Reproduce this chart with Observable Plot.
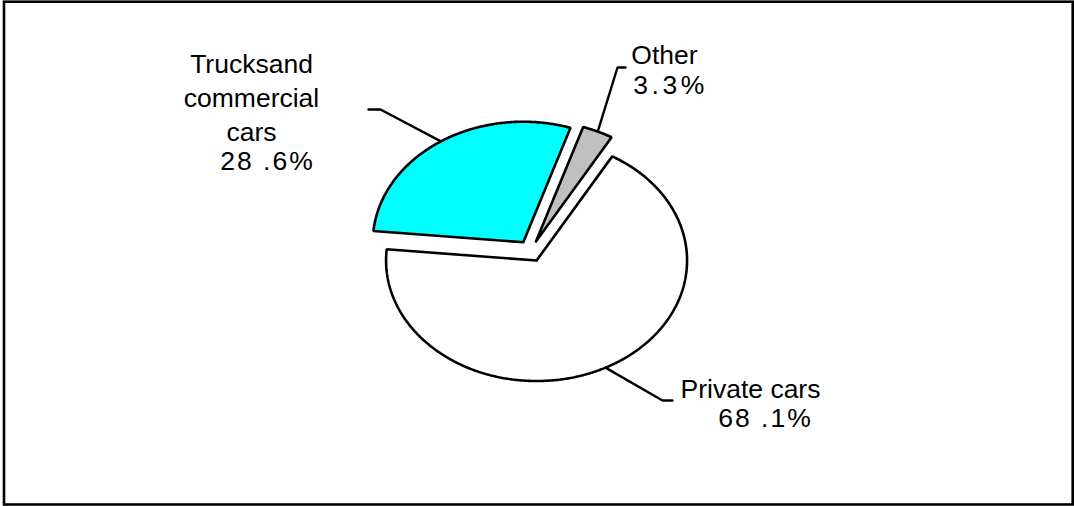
<!DOCTYPE html>
<html><head><meta charset="utf-8">
<script src="https://cdn.jsdelivr.net/npm/d3@7"></script>
<script src="https://cdn.jsdelivr.net/npm/@observablehq/plot@0.6"></script>
<style>
html,body{margin:0;padding:0;background:#fff;}
#chart{width:1074px;height:506px;}
</style></head><body><div id="chart"></div>
<script>
// ---- data ----
const categories = ["Other", "Private cars", "Trucks and commercial cars"];
const values = [3.3, 68.1, 28.6];
const nameLabels = ["Other", "Private cars", "Trucksand\ncommercial\ncars"];
const pctLabels = ["3.3%", "68 .1%", "28 .6%"];
const sliceColors = ["#c0c0c0", "#ffffff", "#00ffff"];

// ---- layout ----
const W = 1074, H = 506;
const cx = 530, cy = 250.6, rx = 150.5, ry = 120.5;
const startDeg = 18.3, explode = 0.088;
const FS = 26.5;
const N = (px, py) => ({x: (px - cx) / rx, y: (py - cy) / ry});
// label layout (pixels): elbow & end of leader, name block top-center, pct top-center
const labelLayout = {
  "Other": {elbow: [617, 67], end: [625, 67], name: [664, 39.5], pct: [670, 74.5], ls: 3.5},
  "Private cars": {elbow: [662, 400], end: [672, 400], name: [750, 372.9], pct: [765, 407.9], ls: 2},
  "Trucks and commercial cars": {elbow: [380, 109], end: [368, 109], name: [251, 47.9], pct: [267, 150.5], ls: 2}
};

const total = d3.sum(values);
let acc = startDeg * Math.PI / 180;
const slices = categories.map((c, i) => {
  const a0 = acc, a1 = acc + values[i] / total * 2 * Math.PI;
  acc = a1;
  const mid = (a0 + a1) / 2;
  return {cat: c, i, a0, a1, mid, ox: explode * Math.sin(mid), oy: -explode * Math.cos(mid)};
});

const slicePts = [];
for (const s of slices) {
  slicePts.push({cat: s.cat, x: s.ox, y: s.oy});
  const n = Math.max(2, Math.ceil((s.a1 - s.a0) / (Math.PI / 360)));
  for (let k = 0; k <= n; k++) {
    const a = s.a0 + (s.a1 - s.a0) * k / n;
    slicePts.push({cat: s.cat, x: s.ox + Math.sin(a), y: s.oy - Math.cos(a)});
  }
  slicePts.push({cat: s.cat, x: s.ox, y: s.oy});
}

const leaderPts = [];
const names = [], pcts = [];
for (const s of slices) {
  const L = labelLayout[s.cat];
  leaderPts.push({cat: s.cat, x: s.ox + Math.sin(s.mid), y: s.oy - Math.cos(s.mid)});
  leaderPts.push({cat: s.cat, ...N(...L.elbow)});
  leaderPts.push({cat: s.cat, ...N(...L.end)});
  names.push({cat: s.cat, text: nameLabels[s.i], ...N(...L.name)});
  pcts.push({cat: s.cat, text: pctLabels[s.i], ls: L.ls, ...N(...L.pct)});
}

const font = "'Liberation Sans', Arial, Helvetica, sans-serif";
const chart = Plot.plot({
  width: W, height: H,
  margin: 0,
  style: {background: "#fff", fontFamily: font},
  x: {domain: [-1, 1], range: [cx - rx, cx + rx], axis: null},
  y: {domain: [-1, 1], range: [cy - ry, cy + ry], axis: null},
  color: {domain: categories, range: sliceColors},
  marks: [
    Plot.frame({stroke: "#000", strokeWidth: 2.6, insetLeft: 3.5, insetTop: 1.2, insetRight: 1.8, insetBottom: 2}),
    Plot.line(slicePts, {x: "x", y: "y", z: "cat", fill: "cat", stroke: "#000", strokeWidth: 2.6, strokeLinejoin: "miter", curve: "linear"}),
    Plot.line(leaderPts, {x: "x", y: "y", z: "cat", stroke: "#000", strokeWidth: 2.4, strokeLinejoin: "miter"}),
    Plot.text(names, {x: "x", y: "y", text: "text", textAnchor: "middle", lineAnchor: "top", lineHeight: 1.29, fontSize: FS, fill: "#000"}),
    Plot.text(pcts, {x: "x", y: "y", text: "text", textAnchor: "middle", lineAnchor: "top", fontSize: FS, fill: "#000"})
  ]
});
// spread the percentage glyphs like the reference
const textGroups = chart.querySelectorAll('g[aria-label="text"]');
const pctGroup = textGroups[textGroups.length - 1];
pctGroup.querySelectorAll("text").forEach((t, k) => {
  t.style.letterSpacing = pcts[k].ls + "px";
});
document.getElementById("chart").appendChild(chart);
</script></body></html>
